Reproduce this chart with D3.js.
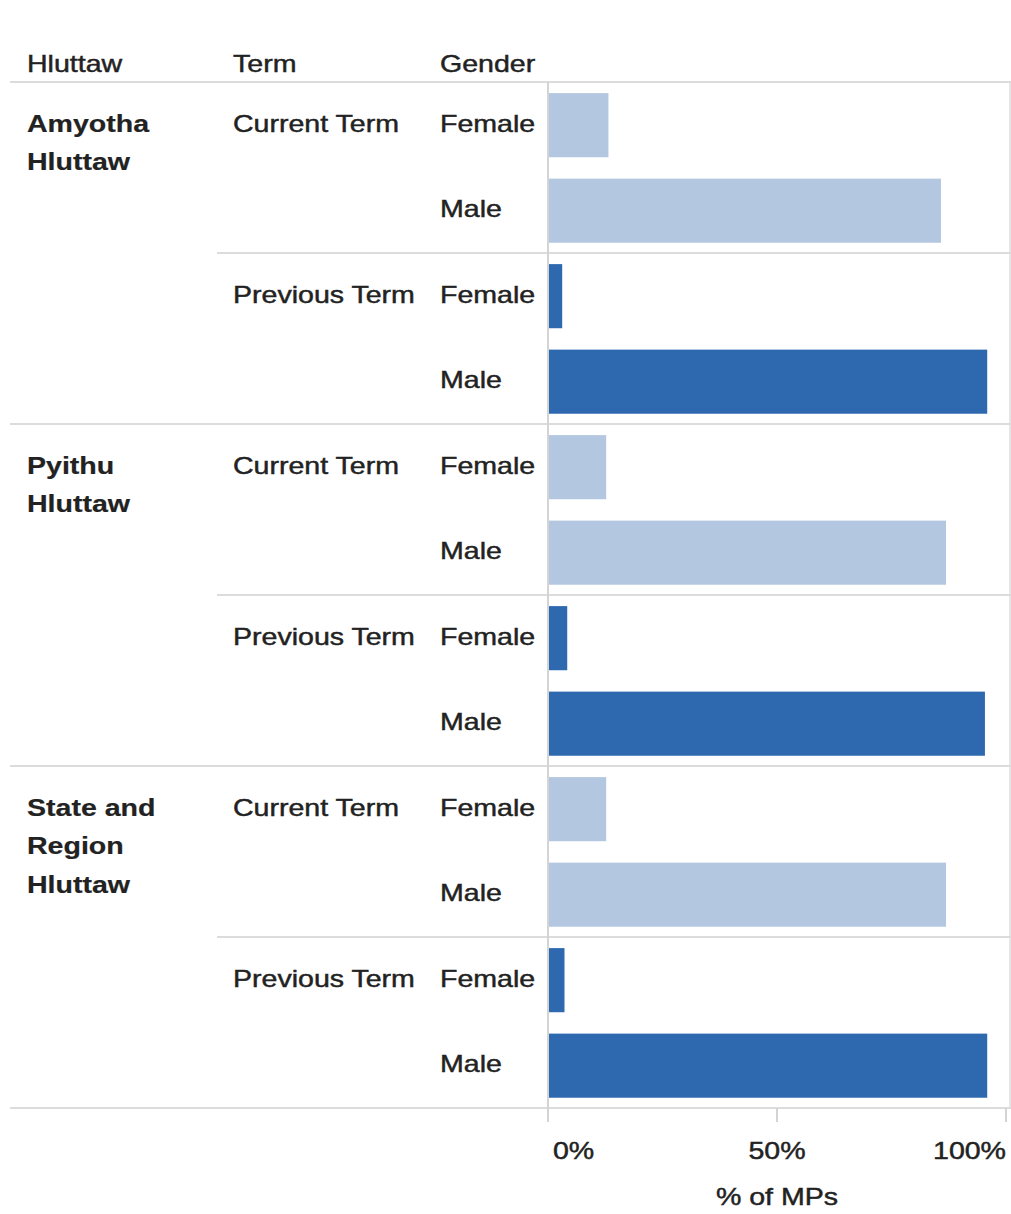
<!DOCTYPE html>
<html>
<head>
<meta charset="utf-8">
<script src="https://cdn.jsdelivr.net/npm/d3@7"></script>
<style>
  body { margin: 0; background: #fff; }
  text { font-family: "Liberation Sans", Arial, sans-serif; fill: #222; }
</style>
</head>
<body>
<svg width="1011" height="1214"></svg>
<script>
// data
const hluttaws = ['Amyotha Hluttaw', 'Pyithu Hluttaw', 'State and Region Hluttaw'];
const hluttawLines = [['Amyotha', 'Hluttaw'], ['Pyithu', 'Hluttaw'], ['State and', 'Region', 'Hluttaw']];
const terms = ['Current Term', 'Previous Term'];
const genders = ['Female', 'Male'];
// % of MPs, order: Amyotha current, Amyotha previous, Pyithu current, Pyithu previous, State current, State previous
const femalePct = [13.2, 3.1, 12.7, 4.2, 12.7, 3.6];
const malePct = [85.8, 95.9, 86.9, 95.4, 86.9, 95.9];
const tickValues = [0, 50, 100];
const tickLabels = ['0%', '50%', '100%'];

const svg = d3.select('svg');
const gridTop = 82, gridBottom = 1108;
const gridLeft = 10, gridRight = 1010;
const sx = 1.19;   // the text in the picture is a bit wide
const fs = 24;

const rows = [];
hluttaws.forEach((h, hi) => {
    terms.forEach((t, ti) => {
        const k = hi * 2 + ti;
        rows.push({h, hi, t, ti, g: genders[0], v: femalePct[k]});
        rows.push({h, hi, t, ti, g: genders[1], v: malePct[k]});
    });
});
rows.forEach((r, i) => r.key = i);

const y = d3.scaleBand().domain(rows.map(r => r.key)).range([gridTop, gridBottom]);
const x = d3.scaleLinear().domain([0, 100]).range([548, 1006]);
const color = d3.scaleOrdinal().domain(terms).range(['#b4c7e0', '#2e69b0']);

function label(sel, tx, ty, txt, opts = {}) {
    sel.append('text')
        .attr('transform', `translate(${tx},${ty}) scale(${sx},1)`)
        .attr('text-anchor', opts.anchor || 'start')
        .style('font-size', (opts.size || fs) + 'px')
        .style('font-weight', opts.bold ? 'bold' : 'normal')
        .style('stroke', '#222')
        .style('stroke-width', opts.bold ? 0.2 : 0.45)
        .text(txt);
}

// header
label(svg, 27, 72, 'Hluttaw');
label(svg, 233, 72, 'Term');
label(svg, 440, 72, 'Gender');

// grid lines
const grid = svg.append('g').attr('stroke', '#dcdcdc').attr('stroke-width', 2);
grid.append('line').attr('x1', gridLeft).attr('x2', 1011).attr('y1', gridTop).attr('y2', gridTop);
rows.forEach(r => {
    if (r.g !== 'Male') return;
    const yy = y(r.key) + y.bandwidth();
    const x1 = r.ti === 1 ? gridLeft : 217;
    grid.append('line').attr('x1', x1).attr('x2', 1011).attr('y1', yy).attr('y2', yy);
});
grid.append('line').attr('x1', gridRight).attr('x2', gridRight).attr('y1', gridTop).attr('y2', gridBottom)
    .attr('stroke-width', 1.5);

// bars
svg.append('g').selectAll('rect').data(rows).join('rect')
    .attr('x', x(0) + 1)
    .attr('y', d => y(d.key) + y.bandwidth() * 0.13)
    .attr('width', d => x(d.v) - x(0) - 1)
    .attr('height', y.bandwidth() * 0.75)
    .attr('fill', d => color(d.t));

// zero line
svg.append('line').attr('x1', x(0)).attr('x2', x(0)).attr('y1', gridTop).attr('y2', gridBottom + 14)
    .attr('stroke', '#d4d4d4').attr('stroke-width', 2);

// row labels
const lab = svg.append('g');
rows.forEach(r => {
    const yc = y(r.key) + y.bandwidth() / 2 + 7;
    label(lab, 440, yc, r.g);
    if (r.g === 'Female') label(lab, 233, yc, r.t);
    if (r.g === 'Female' && r.ti === 0) {
        hluttawLines[r.hi].forEach((ln, li) => {
            label(lab, 27, yc + li * 38.5, ln, {bold: true});
        });
    }
});

// x axis
const axis = svg.append('g');
tickValues.forEach((v, i) => {
    if (v > 0) {
        axis.append('line').attr('x1', x(v)).attr('x2', x(v)).attr('y1', gridBottom).attr('y2', gridBottom + 14)
            .attr('stroke', '#d4d4d4').attr('stroke-width', 2);
    }
    const anchor = i === 0 ? 'start' : (i === tickValues.length - 1 ? 'end' : 'middle');
    const off = i === 0 ? 5 : 0;
    label(axis, x(v) + off, 1159, tickLabels[i], {anchor});
});
label(axis, x(50), 1205, '% of MPs', {anchor: 'middle'});
</script>
</body>
</html>
